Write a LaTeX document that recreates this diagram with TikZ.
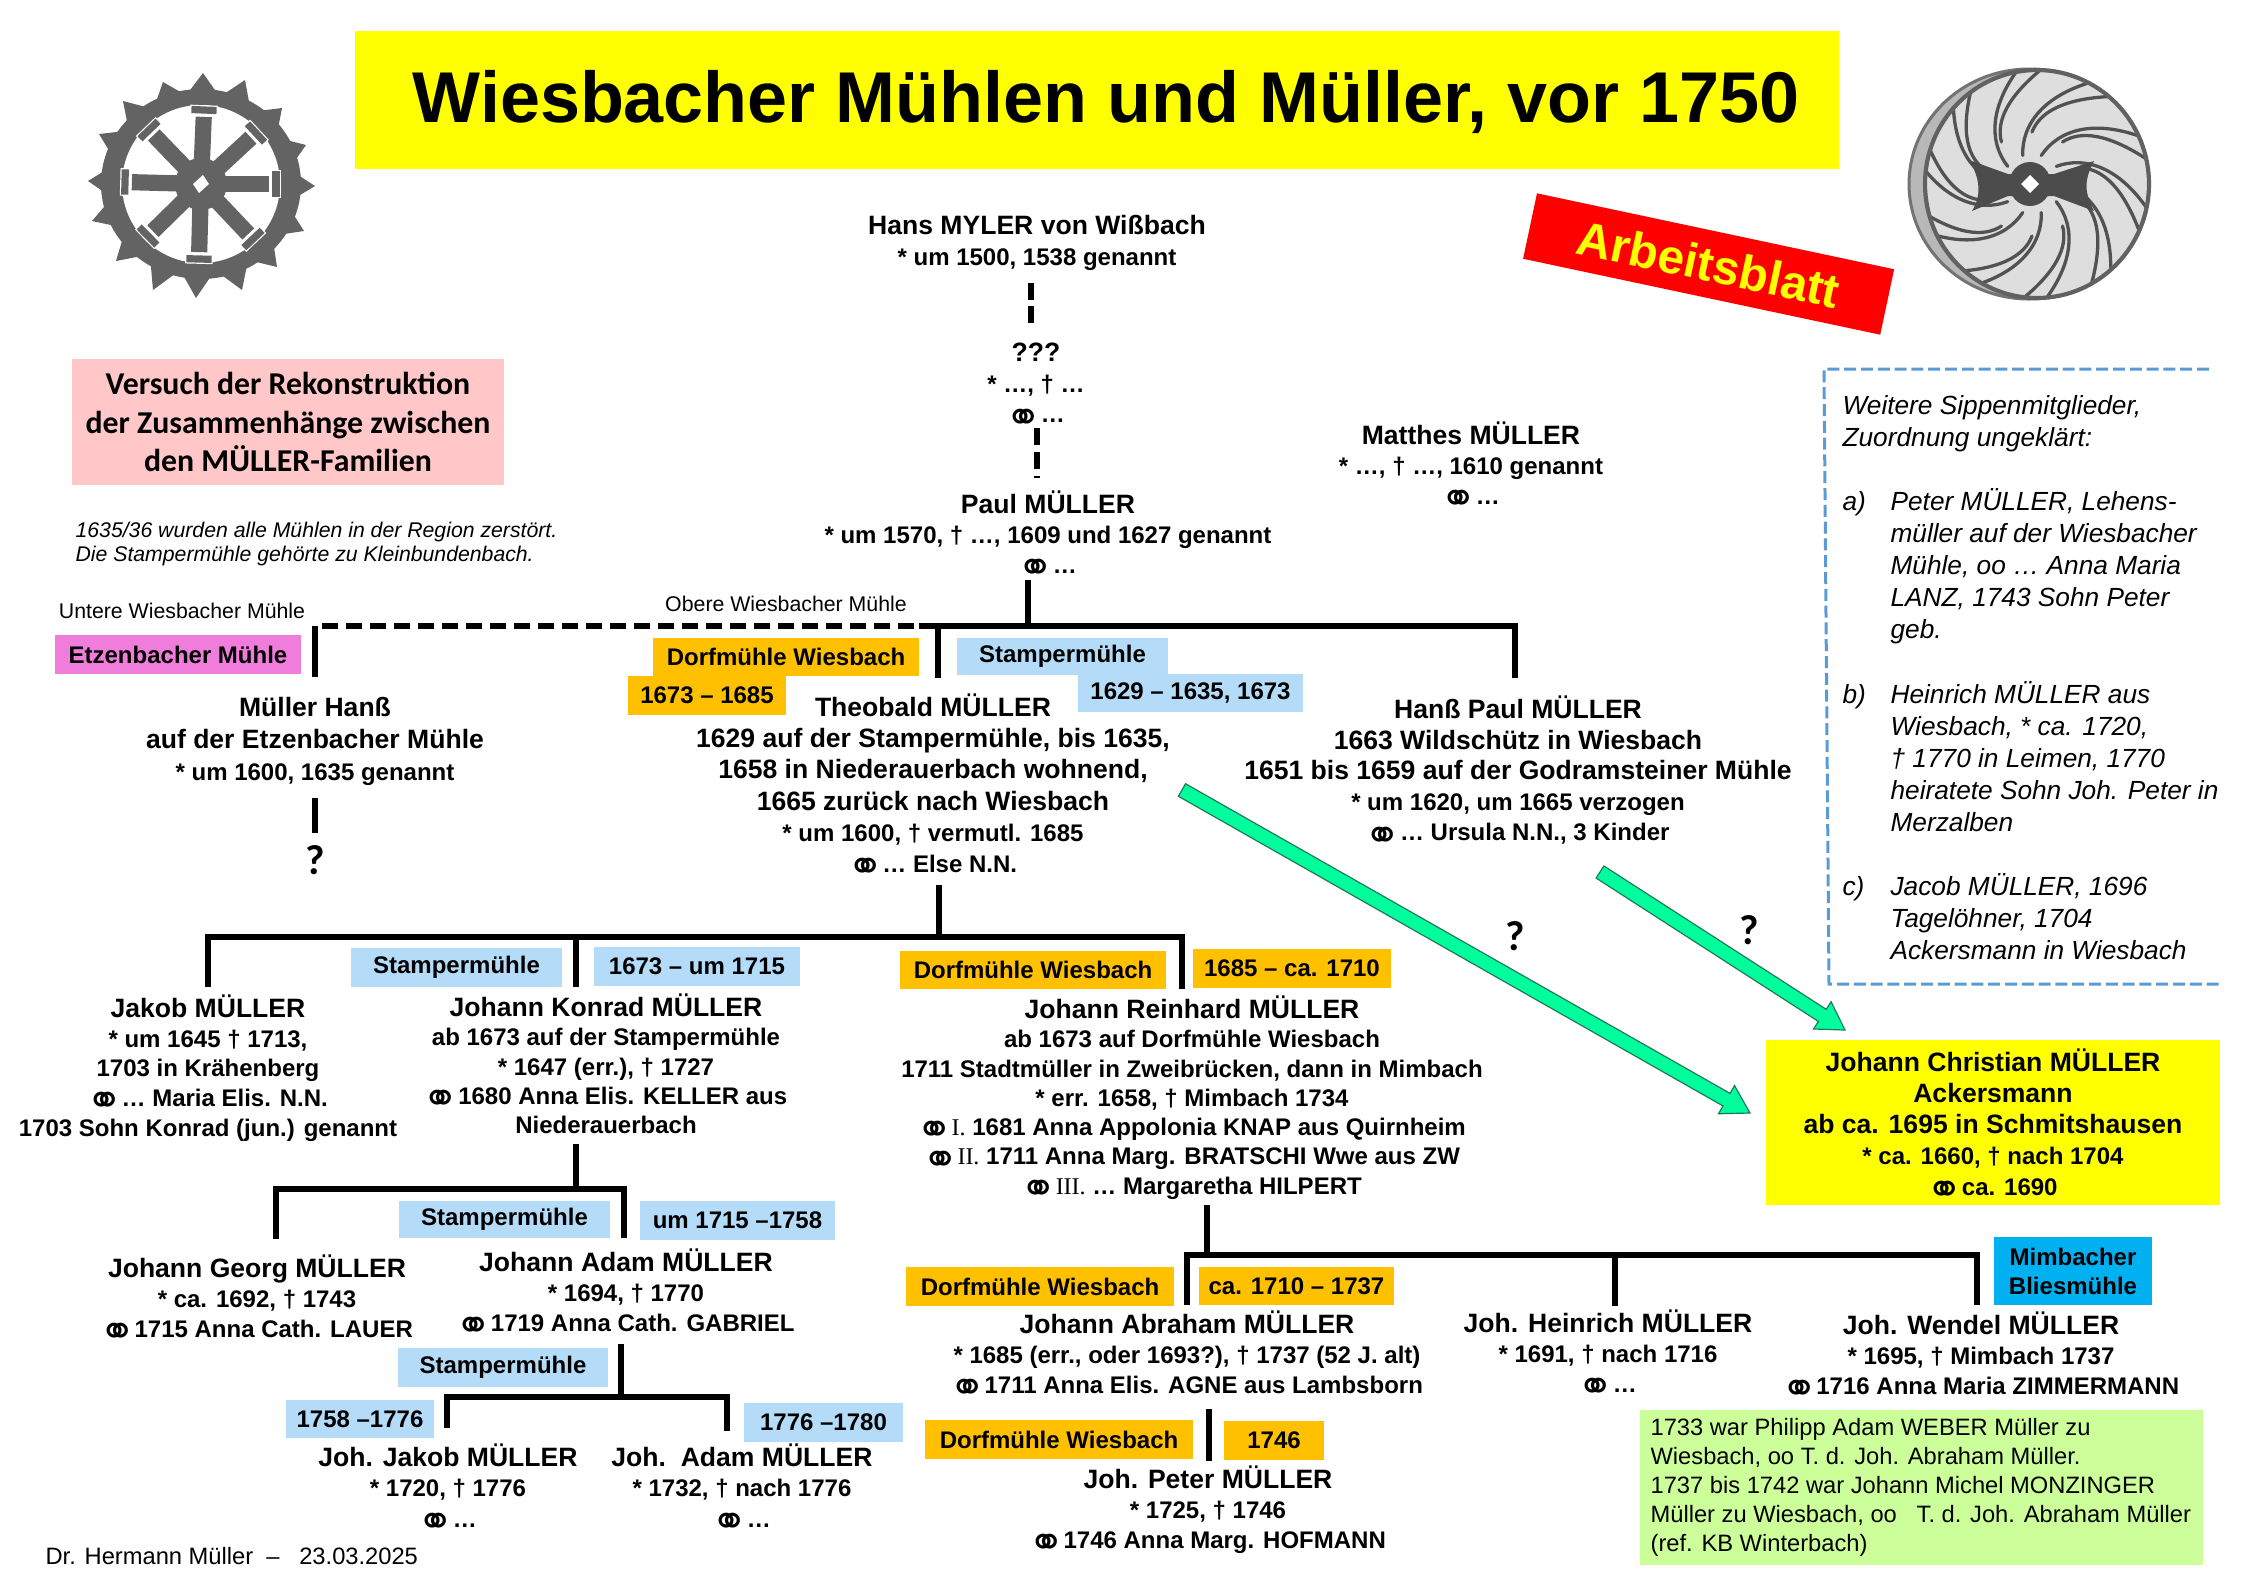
\documentclass[tikz,border=0pt]{standalone}
\usepackage{fontspec}
\setmainfont{Liberation Sans}
\newfontfamily\symf{DejaVu Sans}
\newfontfamily\carl{Carlito}
\newfontfamily\rmn{Liberation Serif}
\usetikzlibrary{calc}
\definecolor{cYellow}{HTML}{FFFF00}
\definecolor{cPink}{HTML}{FFC7C7}
\definecolor{cBlue}{HTML}{B4DCF8}
\definecolor{cOrange}{HTML}{FFC000}
\definecolor{cViolet}{HTML}{F07CDC}
\definecolor{cCyan}{HTML}{00B0F0}
\definecolor{cLime}{HTML}{CCFF99}
\definecolor{cArrow}{HTML}{00FF9C}
\definecolor{cArrowL}{HTML}{1F7A5A}
\definecolor{cDash}{HTML}{5B9BD5}
\definecolor{cGear}{HTML}{636363}
\def\lsk{10pt}
\newcommand\nmf{\fontsize{8.85}{\lsk}\selectfont\bfseries}
\newcommand\dtl{\fontsize{8}{\lsk}\selectfont\bfseries}
\newcommand\ehe{\hspace{-0.6pt}\smash{\raisebox{-3.1pt}{\symf\mdseries\fontsize{14.5}{15}\selectfont ⚭}}\hspace{-2.6pt}}
\newcommand\person[5]{\def\lsk{#4pt}\node[person] (#1) at (#2,#3-14.5) {\rule{0pt}{8pt}#5};}
\newcommand\tagbox[7]{\node[tagb,#2,minimum width={(#5-#3)*0.33333pt},minimum height={(#6-#4)*0.33333pt}] (#1) at ({(#3+#5)/2},{(#4+#6)/2}) {#7};}
\newcommand\dropline[3]{\draw[tree,shorten >={#3*0.33333pt}] (#1) -- (#1 |- #2.north);}
\newcommand\fatarrow[2]{\coordinate (h#1) at ($(#2)!9pt!(#1)$);
  \draw[fatarrowstyle] ($(#1)!2.4pt!90:(#2)$) -- ($(h#1)!2.4pt!90:(#2)$) -- ($(h#1)!5.4pt!90:(#2)$) -- (#2) -- ($(h#1)!5.4pt!-90:(#2)$) -- ($(h#1)!2.4pt!-90:(#2)$) -- ($(#1)!2.4pt!-90:(#2)$) -- cycle;}
\tikzset{
  person/.style={anchor=north,align=center,inner sep=0pt,outer sep=0pt,font=\dtl},
  tagb/.style={inner sep=0pt,outer sep=0pt,align=center,font=\fontsize{8}{9.7}\selectfont\bfseries},
  tagblue/.style={fill=cBlue},
  tagorange/.style={fill=cOrange},
  tree/.style={line width=2pt,line cap=butt,black},
  bus/.style={line width=2pt,line cap=rect,black},
  fatarrowstyle/.style={fill=cArrow,draw=cArrowL,line width=0.4pt,line join=miter},
  vane/.style={draw=black!68,line width=1.1pt,line cap=round}
}
\begin{document}
\begin{tikzpicture}[x=0.33333pt,y=-0.33333pt]
\useasboundingbox (0,0) rectangle (2245,1587);

% title
\tagbox{titlebox}{fill=cYellow}{355}{31}{1839}{169}{}
\node[font=\fontsize{23.98}{28}\selectfont\bfseries,inner sep=0pt] (title) at (1106,102) {Wiesbacher Mühlen und Müller, vor 1750};

% left gear
\begin{scope}
\foreach \tx/\ty in {203/73,245/80,282/108,306/145,315/186,304/231,277/267,242/290,196/298,153/290,116/261,92/221,88/181,99/134,123/101,163/82}{
  \pgfmathsetmacro\aa{atan2(\ty-184,\tx-201)}
  \fill[cGear] (\tx,\ty) -- ($(201,184)+(\aa-8:94)$) -- ($(201,184)+(\aa+8:94)$) -- cycle;
}
\fill[cGear] (201,184) ellipse [x radius=100,y radius=95];
\fill[white] (201,184) ellipse [x radius=79,y radius=79];
\foreach \kx/\ky in {204/110,125/182,276/184,199/259,149/130,256/133,148/236,253/239}{
  \draw[cGear,line width=5.4pt] (201,184) -- ($(\kx,\ky)!2.3pt!(201,184)$);
  \draw[white,line width=3.2pt] ($(\kx,\ky)!4.6pt!90:(201,184)$) -- ($(\kx,\ky)!4.6pt!-90:(201,184)$);
  \draw[cGear,line width=2.4pt] ($(\kx,\ky)!4.2pt!90:(201,184)$) -- ($(\kx,\ky)!4.2pt!-90:(201,184)$);
}
\fill[cGear] (201,184) circle [radius=26];
\fill[white] (193,184) -- (203,175) -- (209,184) -- (199,193) -- cycle;
\end{scope}

% right wheel
\fill[black!28,draw=black!55,line width=1pt] (2029,184) ellipse [x radius=120,y radius=115];
\fill[black!13] (2037,184) ellipse [x radius=112,y radius=114];
\begin{scope}
\clip (2037,184) ellipse [x radius=112,y radius=114];
\begin{scope}[shift={(2032,184)}]
\foreach \t in {0,36,...,324}{
  \draw[vane] (\t:30) .. controls (\t+8:60) and (\t+25:90) .. (\t+50:122);
  \draw[vane] (\t+18:52) .. controls (\t+24:72) and (\t+38:92) .. (\t+62:122);
}
\end{scope}
\end{scope}
\draw[black!62,line width=1.4pt] (2037,184) ellipse [x radius=112,y radius=114];
\fill[black!70] (1969,160) -- (2008,174) -- (2054,174) -- (2094,161) .. controls (2084,180) and (2084,192) .. (2094,211) -- (2054,196) -- (2008,196) -- (1972,211) .. controls (1982,195) and (1980,178) .. (1969,160) -- cycle;
\fill[black!70] (2030,184) ellipse [x radius=21,y radius=22];
\fill[white] (2021,184) -- (2030,175) -- (2039,184) -- (2030,193) -- cycle;

% Arbeitsblatt
\node[fill=red,text=cYellow,minimum width=121.7pt,minimum height=22.3pt,inner sep=0pt,rotate=-12,font=\fontsize{16}{19}\selectfont\bfseries] (arbeit) at (1708.6,264) {Arbeitsblatt};

% pink box
\tagbox{pinkbox}{fill=cPink,font=\carl\fontsize{10.6}{12.7}\selectfont\bfseries}{72}{359}{504}{485}{Versuch der Rekonstruktion\\der Zusammenhänge zwischen\\den MÜLLER-Familien}
\node[anchor=north west,align=left,inner sep=0pt,font=\fontsize{7.08}{8.3}\selectfont\itshape] (note) at (75,521) {1635/36 wurden alle Mühlen in der Region zerstört.\\Die Stampermühle gehörte zu Kleinbundenbach.};
\node[font=\fontsize{7.1}{8}\selectfont,inner sep=0pt] (unt) at (182,611) {Untere Wiesbacher Mühle};
\node[font=\fontsize{7.1}{8}\selectfont,inner sep=0pt] (obe) at (786,604) {Obere Wiesbacher Mühle};

% persons
\person{myler}{1037}{225}{10.3}{\nmf Hans MYLER von Wißbach\\\dtl * um 1500, 1538 genannt}
\person{unk}{1036}{352}{10.2}{\nmf ???\\\dtl * …, † …\\\dtl \ehe{} …}
\person{paul}{1048}{504}{10}{\nmf Paul MÜLLER\\\dtl * um 1570, † …, 1609 und 1627 genannt\\\dtl \ehe{} …}
\person{matthes}{1471}{435}{10}{\nmf Matthes MÜLLER\\\dtl * …, † …, 1610 genannt\\\dtl \ehe{} …}
\person{hanss}{315}{707}{10.6}{\nmf Müller Hanß\\\nmf auf der Etzenbacher Mühle\\\dtl * um 1600, 1635 genannt}
\person{theobald}{933}{707}{10.4}{\nmf Theobald MÜLLER\\\nmf 1629 auf der Stampermühle, bis 1635,\\\nmf 1658 in Niederauerbach wohnend,\\\nmf 1665 zurück nach Wiesbach\\\dtl * um 1600, † vermutl. 1685\\\dtl \ehe{} … Else N.N.}
\person{hanspaul}{1518}{709}{10.2}{\nmf Hanß Paul MÜLLER\\\nmf 1663 Wildschütz in Wiesbach\\\nmf 1651 bis 1659 auf der Godramsteiner Mühle\\\dtl * um 1620, um 1665 verzogen\\\dtl \ehe{} … Ursula N.N., 3 Kinder}
\person{jakob}{208}{1008}{9.9}{\nmf Jakob MÜLLER\\\dtl * um 1645 † 1713,\\\dtl 1703 in Krähenberg\\\dtl \ehe{} … Maria Elis. N.N.\\\dtl 1703 Sohn Konrad (jun.) genannt}
\person{konrad}{606}{1007}{9.75}{\nmf Johann Konrad MÜLLER\\\dtl ab 1673 auf der Stampermühle\\\dtl * 1647 (err.), † 1727\\\dtl \ehe{} 1680 Anna Elis. KELLER aus\\\dtl Niederauerbach}
\person{reinhard}{1192}{1009}{9.75}{\nmf Johann Reinhard MÜLLER\\\dtl ab 1673 auf Dorfmühle Wiesbach\\\dtl 1711 Stadtmüller in Zweibrücken, dann in Mimbach\\\dtl * err. 1658, † Mimbach 1734\\\dtl \ehe{} {\rmn\mdseries I.} 1681 Anna Appolonia KNAP aus Quirnheim\\\dtl \ehe{} {\rmn\mdseries II.} 1711 Anna Marg. BRATSCHI Wwe aus ZW\\\dtl \ehe{} {\rmn\mdseries III.} … Margaretha HILPERT}
\person{georg}{257}{1268}{10}{\nmf Johann Georg MÜLLER\\\dtl * ca. 1692, † 1743\\\dtl \ehe{} 1715 Anna Cath. LAUER}
\person{adam}{626}{1262}{10}{\nmf Johann Adam MÜLLER\\\dtl * 1694, † 1770\\\dtl \ehe{} 1719 Anna Cath. GABRIEL}
\person{jjakob}{448}{1457}{10.1}{\nmf Joh. Jakob MÜLLER\\\dtl * 1720, † 1776\\\dtl \ehe{} …}
\person{jadam}{742}{1457}{10.1}{\nmf Joh.\ \ Adam MÜLLER\\\dtl * 1732, † nach 1776\\\dtl \ehe{} …}
\person{abraham}{1187}{1324}{10}{\nmf Johann Abraham MÜLLER\\\dtl * 1685 (err., oder 1693?), † 1737 (52 J. alt)\\\dtl \ehe{} 1711 Anna Elis. AGNE aus Lambsborn}
\person{heinrich}{1608}{1323}{10}{\nmf Joh. Heinrich MÜLLER\\\dtl * 1691, † nach 1716\\\dtl \ehe{} …}
\person{wendel}{1981}{1325}{10}{\nmf Joh. Wendel MÜLLER\\\dtl * 1695, † Mimbach 1737\\\dtl \ehe{} 1716 Anna Maria ZIMMERMANN}
\person{peter}{1208}{1479}{10}{\nmf Joh. Peter MÜLLER\\\dtl * 1725, † 1746\\\dtl \ehe{} 1746 Anna Marg. HOFMANN}

% tag boxes
\tagbox{etzen}{fill=cViolet}{55}{635}{301}{674}{Etzenbacher Mühle}
\tagbox{dorf1}{tagorange}{653}{638}{919}{676}{Dorfmühle Wiesbach}
\tagbox{dorf1y}{tagorange}{628}{676}{786}{715}{1673 – 1685}
\tagbox{stamp1}{tagblue}{957}{638}{1168}{675}{Stampermühle}
\tagbox{stamp1y}{tagblue}{1078}{674}{1303}{712}{1629 – 1635, 1673}
\tagbox{stamp2}{tagblue}{351}{948}{562}{987}{Stampermühle}
\tagbox{stamp2y}{tagblue}{594}{947}{800}{986}{1673 – um 1715}
\tagbox{dorf2}{tagorange}{900}{951}{1166}{989}{Dorfmühle Wiesbach}
\tagbox{dorf2y}{tagorange}{1193}{949}{1391}{988}{1685 – ca. 1710}
\tagbox{stamp3}{tagblue}{399}{1201}{610}{1238}{Stampermühle}
\tagbox{stamp3y}{tagblue}{640}{1201}{835}{1240}{um 1715 –1758}
\tagbox{stamp4}{tagblue}{398}{1348}{608}{1387}{Stampermühle}
\tagbox{stamp4a}{tagblue}{286}{1400}{434}{1438}{1758 –1776}
\tagbox{stamp4b}{tagblue}{744}{1403}{903}{1442}{1776 –1780}
\tagbox{dorf3}{tagorange}{906}{1267}{1174}{1306}{Dorfmühle Wiesbach}
\tagbox{dorf3y}{tagorange}{1199}{1267}{1394}{1305}{ca. 1710 – 1737}
\tagbox{dorf4}{tagorange}{925}{1420}{1193}{1459}{Dorfmühle Wiesbach}
\tagbox{dorf4y}{tagorange}{1224}{1421}{1324}{1460}{1746}
\tagbox{mimbach}{fill=cCyan}{1994}{1237}{2152}{1305}{Mimbacher\\Bliesmühle}

% yellow target
\tagbox{christ}{fill=cYellow,font=\fontsize{8.85}{10.3}\selectfont\bfseries}{1766}{1040}{2220}{1205}{\def\lsk{10.4pt}\nmf Johann Christian MÜLLER\\\nmf Ackersmann\\\nmf ab ca. 1695 in Schmitshausen\\\dtl * ca. 1660, † nach 1704\\\dtl \ehe{} ca. 1690}

% green note
\tagbox{lime}{fill=cLime}{1640}{1410}{2203}{1565}{}
\node[anchor=north west,align=left,inner sep=0pt,font=\fontsize{7.9}{9.67}\selectfont] (limetext) at (1650,1418) {1733 war Philipp Adam WEBER Müller zu\\Wiesbach, oo T. d. Joh. Abraham Müller.\\1737 bis 1742 war Johann Michel MONZINGER\\Müller zu Wiesbach, oo\ \ \ T. d. Joh. Abraham Müller\\(ref. KB Winterbach)};

% dashed note box
\coordinate (dbA) at (2209,369);
\coordinate (dbB) at (1824,369);
\coordinate (dbC) at (1829,984);
\coordinate (dbD) at (2221,984);
\draw[cDash,line width=1pt,dash pattern=on 4pt off 1.6pt] (dbA) -- (dbB) -- (dbC) -- (dbD);
\node[anchor=north west,align=left,inner sep=0pt,font=\fontsize{8.75}{10.68}\selectfont\itshape] (others) at (1842,395) {Weitere Sippenmitglieder,\\Zuordnung ungeklärt:\\[10.68pt]\makebox[16pt][l]{a)}Peter MÜLLER, Lehens-\\\hspace*{16pt}müller auf der Wiesbacher\\\hspace*{16pt}Mühle, oo … Anna Maria\\\hspace*{16pt}LANZ, 1743 Sohn Peter\\\hspace*{16pt}geb.\\[10.68pt]\makebox[16pt][l]{b)}Heinrich MÜLLER aus\\\hspace*{16pt}Wiesbach, * ca. 1720,\\\hspace*{16pt}† 1770 in Leimen, 1770\\\hspace*{16pt}heiratete Sohn Joh. Peter in\\\hspace*{16pt}Merzalben\\[10.68pt]\makebox[16pt][l]{c)}Jacob MÜLLER, 1696\\\hspace*{16pt}Tagelöhner, 1704\\\hspace*{16pt}Ackersmann in Wiesbach};

% footer
\node[anchor=west,inner sep=0pt,font=\fontsize{7.9}{10}\selectfont] (footer) at (45,1556) {Dr. Hermann Müller \ – \ \ 23.03.2025};

% question marks
\node[inner sep=0pt,font=\carl\fontsize{14}{16}\selectfont\bfseries] (q1) at (315,860) {?};
\node[inner sep=0pt,font=\carl\fontsize{14}{16}\selectfont\bfseries] (q2) at (1515,936) {?};
\node[inner sep=0pt,font=\carl\fontsize{14}{16}\selectfont\bfseries] (q3) at (1749,930) {?};

% connectors
\coordinate (mylerB) at (1031,283);
\coordinate (unkT) at (1031,324);
\draw[tree,dash pattern=on 5.7pt off 2pt] (mylerB) -- (unkT);
\coordinate (unkB) at (1037,428);
\coordinate (paulT) at (1037,478);
\draw[tree,dash pattern=on 5.7pt off 2.3pt] (unkB) -- (paulT);

\coordinate (paulB) at (1028,580);
\coordinate (busP) at (1028,626);
\coordinate (busHanss) at (315,626);
\coordinate (dashStart) at (322,626);
\coordinate (dashEnd) at (922,626);
\coordinate (busTheo) at (938,626);
\coordinate (busHP) at (1515,626);
\draw[tree,dash pattern=on 5.33pt off 2.67pt] (dashStart) -- (dashEnd);
\draw[bus] (dashEnd) -- (busHP);
\draw[tree] (paulB) -- (busP);
\dropline{busHanss}{hanss}{15.5}
\dropline{busTheo}{theobald}{14.5}
\dropline{busHP}{hanspaul}{16.5}

\coordinate (hanssB) at (315,798);
\coordinate (q1T) at (315,833);
\draw[tree] (hanssB) -- (q1T);

\coordinate (theoB) at (939,885);
\coordinate (bus2T) at (939,937);
\coordinate (bus2J) at (208,937);
\coordinate (bus2K) at (576,937);
\coordinate (bus2R) at (1182,937);
\draw[tree] (theoB) -- (bus2T);
\draw[bus] (bus2J) -- (bus2R);
\dropline{bus2J}{jakob}{6.5}
\dropline{bus2K}{konrad}{5.5}
\dropline{bus2R}{reinhard}{5.5}

\coordinate (konB) at (576,1144);
\coordinate (bus3T) at (576,1189);
\coordinate (bus3G) at (276,1189);
\coordinate (bus3A) at (624,1189);
\draw[tree] (konB) -- (bus3T);
\draw[bus] (bus3G) -- (bus3A);
\dropline{bus3G}{georg}{14.5}
\dropline{bus3A}{adam}{9.5}

\coordinate (adamB) at (621,1344);
\coordinate (bus4T) at (621,1397);
\coordinate (bus4J) at (447,1397);
\coordinate (bus4A) at (727,1397);
\draw[tree] (adamB) -- (bus4T);
\draw[bus] (bus4J) -- (bus4A);
\dropline{bus4J}{jjakob}{14.5}
\dropline{bus4A}{jadam}{11.5}

\coordinate (reinB) at (1207,1205);
\coordinate (bus5T) at (1207,1255);
\coordinate (bus5A) at (1187,1255);
\coordinate (bus5H) at (1615,1255);
\coordinate (bus5W) at (1977,1255);
\draw[tree] (reinB) -- (bus5T);
\draw[bus] (bus5A) -- (bus5W);
\dropline{bus5A}{abraham}{4.5}
\dropline{bus5H}{heinrich}{2.5}
\dropline{bus5W}{wendel}{5.5}

\coordinate (abrB) at (1209,1409);
\coordinate (abrC) at (1209,1461);
\draw[tree] (abrB) -- (abrC);

% green arrows
\coordinate (a1) at (1182,790);
\coordinate (t1) at (1750,1113);
\fatarrow{a1}{t1}
\coordinate (a2) at (1600,872);
\coordinate (t2) at (1845,1030);
\fatarrow{a2}{t2}
\end{tikzpicture}
\end{document}
